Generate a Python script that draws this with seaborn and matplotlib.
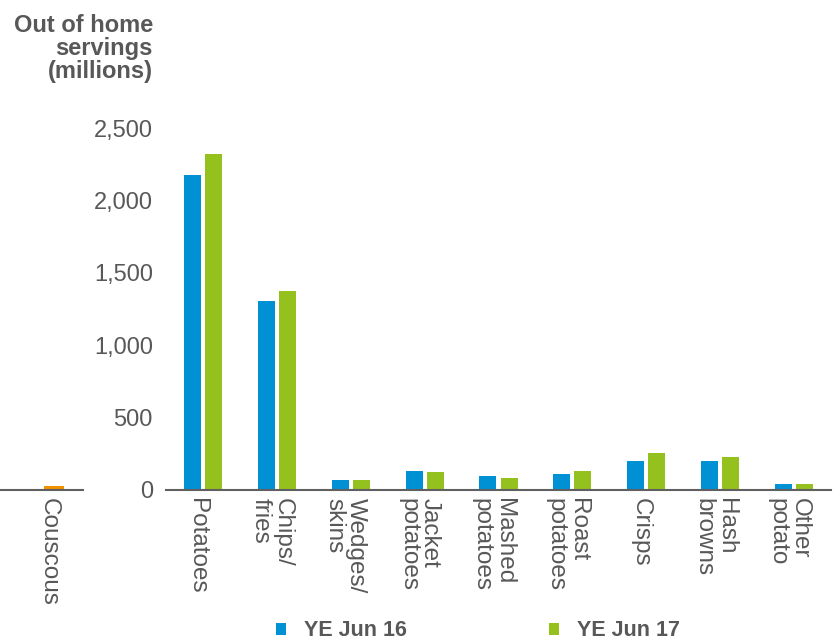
import pandas as pd
import matplotlib
matplotlib.use('Agg')
import matplotlib.pyplot as plt
import matplotlib.transforms as mtransforms
import seaborn as sns
from matplotlib.patches import Patch
from matplotlib.ticker import FuncFormatter

# 数据
categories = ['Potatoes', 'Chips/\nfries', 'Wedges/\nskins', 'Jacket\npotatoes', 'Mashed\npotatoes',
              'Roast\npotatoes', 'Crisps', 'Hash\nbrowns', 'Other\npotato']
ye_jun_16 = [2176, 1308, 67, 134, 95, 109, 201, 201, 42]
ye_jun_17 = [2322, 1373, 67, 123, 81, 134, 255, 227, 42]
series = ['YE Jun 16', 'YE Jun 17']
couscous_label = ['Couscous']
couscous_value = [28]
y_ticks = [0, 500, 1000, 1500, 2000, 2500]

blue = '#0091d5'
green = '#95c11f'
orange = '#f39200'
grey = '#585858'

sns.set_theme(style='white')
plt.rcParams['font.family'] = ['Liberation Sans', 'DejaVu Sans']

df = pd.DataFrame({
    'category': categories * 2,
    'series': [series[0]] * len(categories) + [series[1]] * len(categories),
    'value': ye_jun_16 + ye_jun_17,
})
df_cous = pd.DataFrame({'category': couscous_label, 'value': couscous_value})

fig = plt.figure(figsize=(8.38, 6.41), dpi=100)
bottom = (641 - 490) / 641
height = (490 - 128) / 641
ax = fig.add_axes([166 / 838, bottom, (831 - 166) / 838, height])
ax0 = fig.add_axes([0, bottom, 83 / 838, height])

# 主图
sns.barplot(data=df, x='category', y='value', hue='series', order=categories,
            hue_order=series, palette=[blue, green], width=0.57, gap=0.19,
            saturation=1, linewidth=0, ax=ax, legend=False)
# 左侧被截的面板
sns.barplot(data=df_cous, x='category', y='value', color=orange, width=0.27,
            saturation=1, linewidth=0, ax=ax0)

# 标签稍微左移
shift = mtransforms.ScaledTranslation(-4 / 72, 0, fig.dpi_scale_trans)

for a in (ax, ax0):
    a.set_ylim(0, 2500)
    a.set_xlabel('')
    a.set_ylabel('')
    sns.despine(ax=a, left=True, top=True, right=True)
    a.spines['bottom'].set_color('#606060')
    a.spines['bottom'].set_linewidth(1.5)
    a.tick_params(axis='x', length=0, pad=6, labelsize=17.5, labelcolor=grey)
    for lab in a.get_xticklabels():
        lab.set_rotation(-90)
        lab.set_ha('center')
        lab.set_va('top')
        lab.set_multialignment('left')
        lab.set_linespacing(1.0)
        lab.set_transform(lab.get_transform() + shift)

ax.set_xlim(-0.5, 8.5)
ax0.set_xlim(-0.732, 0.393)

ax.set_yticks(y_ticks)
ax.yaxis.set_major_formatter(FuncFormatter(lambda v, p: f'{int(v):,}'))
ax.tick_params(axis='y', length=0, pad=9.5, labelsize=17, labelcolor=grey)
ax0.set_yticks([])

fig.text(153 / 838, 1 - 14 / 641, 'Out of home\nservings\n(millions)', ha='right', va='top',
         ma='right', fontsize=17, fontweight='bold', color=grey, linespacing=1.0)

handles = [Patch(facecolor=blue, edgecolor='none', label=series[0]),
           Patch(facecolor=green, edgecolor='none', label=series[1])]
leg = fig.legend(handles=handles, ncol=2, loc='center left', bbox_to_anchor=(276 / 838, 1 - 631 / 641),
                 frameon=False, borderpad=0, borderaxespad=0, handlelength=0.45, handleheight=0.45,
                 handletextpad=0.85, columnspacing=6.6, prop={'size': 15.5, 'weight': 'bold'})
for t in leg.get_texts():
    t.set_color(grey)

plt.savefig('out.png', dpi=100)
